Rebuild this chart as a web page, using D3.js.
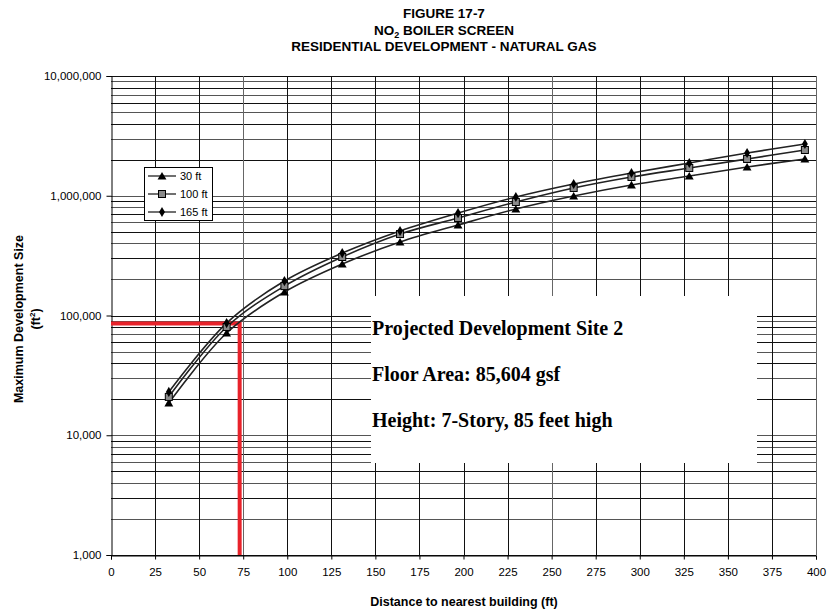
<!DOCTYPE html>
<html>
<head>
<meta charset="utf-8">
<script src="https://cdn.jsdelivr.net/npm/d3@7"></script>
<style>
  html, body { margin: 0; padding: 0; background: #fff; }
  svg { display: block; font-family: "Liberation Sans", Arial, sans-serif; }
</style>
</head>
<body>
<svg id="chart" width="829" height="616"></svg>
<script>
// ---- data ----
const distances = [32.8, 65.6, 98.4, 131.2, 164.0, 196.9, 229.7, 262.5, 295.3, 328.1, 360.9, 393.7];
const series30  = [18600, 71400, 157000, 269000, 411000, 570000, 775000, 995000, 1230000, 1462000, 1738000, 2028000];
const series100 = [20900, 80200, 176000, 308000, 479000, 652000, 887000, 1161000, 1434000, 1706000, 2028000, 2410000];
const series165 = [23000, 86500, 194000, 332000, 508000, 717000, 976000, 1253000, 1549000, 1877000, 2275000, 2704000];
const seriesNames = ["30 ft", "100 ft", "165 ft"];
const xTicks = [0, 25, 50, 75, 100, 125, 150, 175, 200, 225, 250, 275, 300, 325, 350, 375, 400];
const yTicks = [1000, 10000, 100000, 1000000, 10000000];
const siteFloorArea = 85604;
const siteDistance = 73;
const titleLines = ["FIGURE 17-7", "NO|2| BOILER SCREEN", "RESIDENTIAL DEVELOPMENT - NATURAL GAS"];
const noteLines = ["Projected Development Site 2", "Floor Area: 85,604 gsf", "Height: 7-Story, 85 feet high"];

// ---- layout ----
const svg = d3.select("#chart");
const pLeft = 111, pRight = 816, pTop = 76, pBottom = 555;
const x = d3.scaleLinear().domain([0, 400]).range([pLeft, pRight]);
const y = d3.scaleLog().domain([1000, 10000000]).range([pBottom, pTop]);
const SANS = "'Liberation Sans', Arial, sans-serif";
const SERIF = "'Liberation Serif', 'Times New Roman', serif";

// gridlines
const grid = svg.append("g");
const minorVals = [];
for (let e = 3; e < 7; e++) for (let m = 1; m <= 9; m++) minorVals.push(m * Math.pow(10, e));
minorVals.push(10000000);
grid.selectAll("line.h").data(minorVals).join("line")
  .attr("x1", pLeft).attr("x2", pRight)
  .attr("y1", d => Math.round(y(d)) + 0.5).attr("y2", d => Math.round(y(d)) + 0.5)
  .attr("stroke", (d, i) => i % 2 ? "#555" : "#111").attr("stroke-width", 1);
grid.selectAll("line.v").data(xTicks.slice(1)).join("line")
  .attr("x1", d => Math.round(x(d)) + 0.5).attr("x2", d => Math.round(x(d)) + 0.5)
  .attr("y1", pTop).attr("y2", pBottom)
  .attr("stroke", d => (d === 75 || d === 250 || d === 400) ? "#666" : "#111").attr("stroke-width", 1);

// axes
const xAxis = svg.append("g").attr("transform", `translate(0,${pBottom + 0.5})`)
  .call(d3.axisBottom(x).tickValues(xTicks).tickSize(4).tickPadding(8).tickFormat(d3.format("d")));
const yAxis = svg.append("g").attr("transform", `translate(${pLeft + 0.5},0)`)
  .call(d3.axisLeft(y).tickValues(yTicks).tickSize(5).tickPadding(5).tickFormat(d3.format(",")));
[xAxis, yAxis].forEach(a => {
  a.select(".domain").attr("stroke", "#000");
  a.selectAll(".tick line").attr("stroke", "#000");
  a.selectAll("text").style("font-size", "11.5px").attr("fill", "#000").style("font-family", SANS);
});

// note box (white)
svg.append("rect").attr("x", 371).attr("y", 296).attr("width", 386).attr("height", 167).attr("fill", "#fff");
svg.append("g").selectAll("text").data(noteLines).join("text")
  .attr("x", 372).attr("y", (d, i) => 335 + i * 46)
  .style("font-family", SERIF).style("font-weight", "bold").style("font-size", "20px").attr("fill", "#000")
  .text(d => d);

// red reference lines
svg.append("path")
  .attr("d", `M${pLeft},${y(siteFloorArea)}H${x(siteDistance)}V${pBottom}`)
  .attr("fill", "none").attr("stroke", "#e8232b").attr("stroke-width", 4);

// series
const allSeries = [series30, series100, series165];
const line = d3.line().x((d, i) => x(distances[i])).y(d => y(d)).curve(d3.curveCatmullRom.alpha(0.5));
const lines = svg.append("g");
allSeries.forEach(s => {
  lines.append("path").attr("d", line(s)).attr("fill", "none").attr("stroke", "#222").attr("stroke-width", 1.6);
});

const triangle = d3.symbol().type(d3.symbolTriangle).size(34);
const diamond = d3.symbol().type(d3.symbolDiamond).size(30);
function drawMarker(g, k, cx, cy) {
  if (k === 0) {
    g.append("path").attr("d", triangle()).attr("transform", `translate(${cx},${cy + 1})`).attr("fill", "#000");
  } else if (k === 1) {
    g.append("rect").attr("x", cx - 3.5).attr("y", cy - 3.5).attr("width", 7).attr("height", 7)
      .attr("fill", "#8a8a8a").attr("stroke", "#000").attr("stroke-width", 1);
  } else {
    g.append("path").attr("d", diamond()).attr("transform", `translate(${cx},${cy})`).attr("fill", "#000");
  }
}
const markers = svg.append("g");
[0, 1, 2].forEach(k => {
  allSeries[k].forEach((v, i) => drawMarker(markers, k, x(distances[i]), y(v)));
});

// legend
const lg = svg.append("g");
lg.append("rect").attr("x", 144.5).attr("y", 167.5).attr("width", 68).attr("height", 53)
  .attr("fill", "#fff").attr("stroke", "#000").attr("stroke-width", 1);
seriesNames.forEach((name, k) => {
  const ly = 176 + k * 18;
  lg.append("line").attr("x1", 148).attr("x2", 176).attr("y1", ly).attr("y2", ly)
    .attr("stroke", "#222").attr("stroke-width", 1.3);
  drawMarker(lg, k, 162, ly);
  lg.append("text").attr("x", 180).attr("y", ly + 4).style("font-size", "11px").attr("fill", "#000").text(name);
});

// title
const tg = svg.append("g");
titleLines.forEach((t, i) => {
  const txt = tg.append("text").attr("x", 444).attr("y", 18 + i * 16.5)
    .attr("text-anchor", "middle").style("font-size", "13.5px").style("font-weight", "bold").attr("fill", "#000");
  const parts = t.split("|");
  parts.forEach((p, j) => {
    if (!p) return;
    const ts = txt.append("tspan").text(p);
    if (j === 1) ts.style("font-size", "9px").attr("dy", 3);
    if (j === 2 && parts[1]) ts.attr("dy", -3);
  });
});

// axis titles
svg.append("text").attr("x", 464).attr("y", 606).attr("text-anchor", "middle")
  .style("font-size", "12.5px").style("font-weight", "bold").attr("fill", "#000")
  .text("Distance to nearest building (ft)");
const yt = svg.append("g").attr("transform", "translate(23,319) rotate(-90)");
yt.append("text").attr("x", 0).attr("y", 0).attr("text-anchor", "middle")
  .style("font-size", "12.5px").style("font-weight", "bold").attr("fill", "#000")
  .text("Maximum Development Size");
const yt2 = yt.append("text").attr("x", 0).attr("y", 17).attr("text-anchor", "middle")
  .style("font-size", "12.5px").style("font-weight", "bold").attr("fill", "#000");
yt2.append("tspan").text("(ft");
yt2.append("tspan").text("2").style("font-size", "8px").attr("dy", -5);
yt2.append("tspan").text(")").attr("dy", 5);
</script>
</body>
</html>
